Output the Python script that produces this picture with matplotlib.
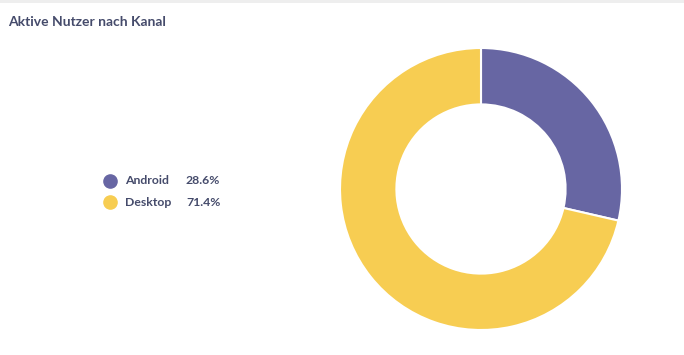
import matplotlib
matplotlib.use("Agg")
from matplotlib import pyplot as plt
from matplotlib.patches import Rectangle

# data
labels  = ["Android", "Desktop"]
values  = [28.6, 71.4]
colors  = ["#6766A3", "#F7CD52"]
title   = "Aktive Nutzer nach Kanal"

text_color = "#454B6B"
W, H = 684, 355

plt.rcParams['font.family'] = ['Lato', 'DejaVu Sans']

fig = plt.figure(figsize=(W/100, H/100), dpi=100)
fig.patch.set_facecolor("white")

# grey strip at the top
fig.patches.append(Rectangle((0, 1 - 3/H), 1, 3/H, transform=fig.transFigure,
                             facecolor="#EEEEEE", edgecolor="none"))

fig.text(8/W, 1 - 22/H, title, fontsize=10, fontweight="bold",
         color=text_color, va="center", ha="left")

# donut
cx, cy, r = 481, 189, 141
ax = fig.add_axes([(cx - r)/W, (H - cy - r)/H, 2*r/W, 2*r/H])
ax.pie(values, colors=colors, startangle=90, counterclock=False,
       radius=1.0, wedgeprops=dict(width=0.40, edgecolor="white", linewidth=1.5))
ax.set_xlim(-1, 1)
ax.set_ylim(-1, 1)
ax.set_aspect("equal")
ax.axis("off")

# legend
total = sum(values)
for i, (lab, val, col) in enumerate(zip(labels, values, colors)):
	y = 1 - (181 + 21*i)/H
	fig.lines.append(plt.Line2D([110/W], [y], transform=fig.transFigure,
	                            marker="o", markersize=9.5, color=col, linestyle="none"))
	fig.text(125/W, y, lab, fontsize=8.8, fontweight="bold", color=text_color,
	         va="center", ha="left")
	fig.text(186/W, y, "%.1f%%" % (val/total*100), fontsize=8.8, fontweight="bold",
	         color=text_color, va="center", ha="left")

fig.savefig("out.png", dpi=100)
